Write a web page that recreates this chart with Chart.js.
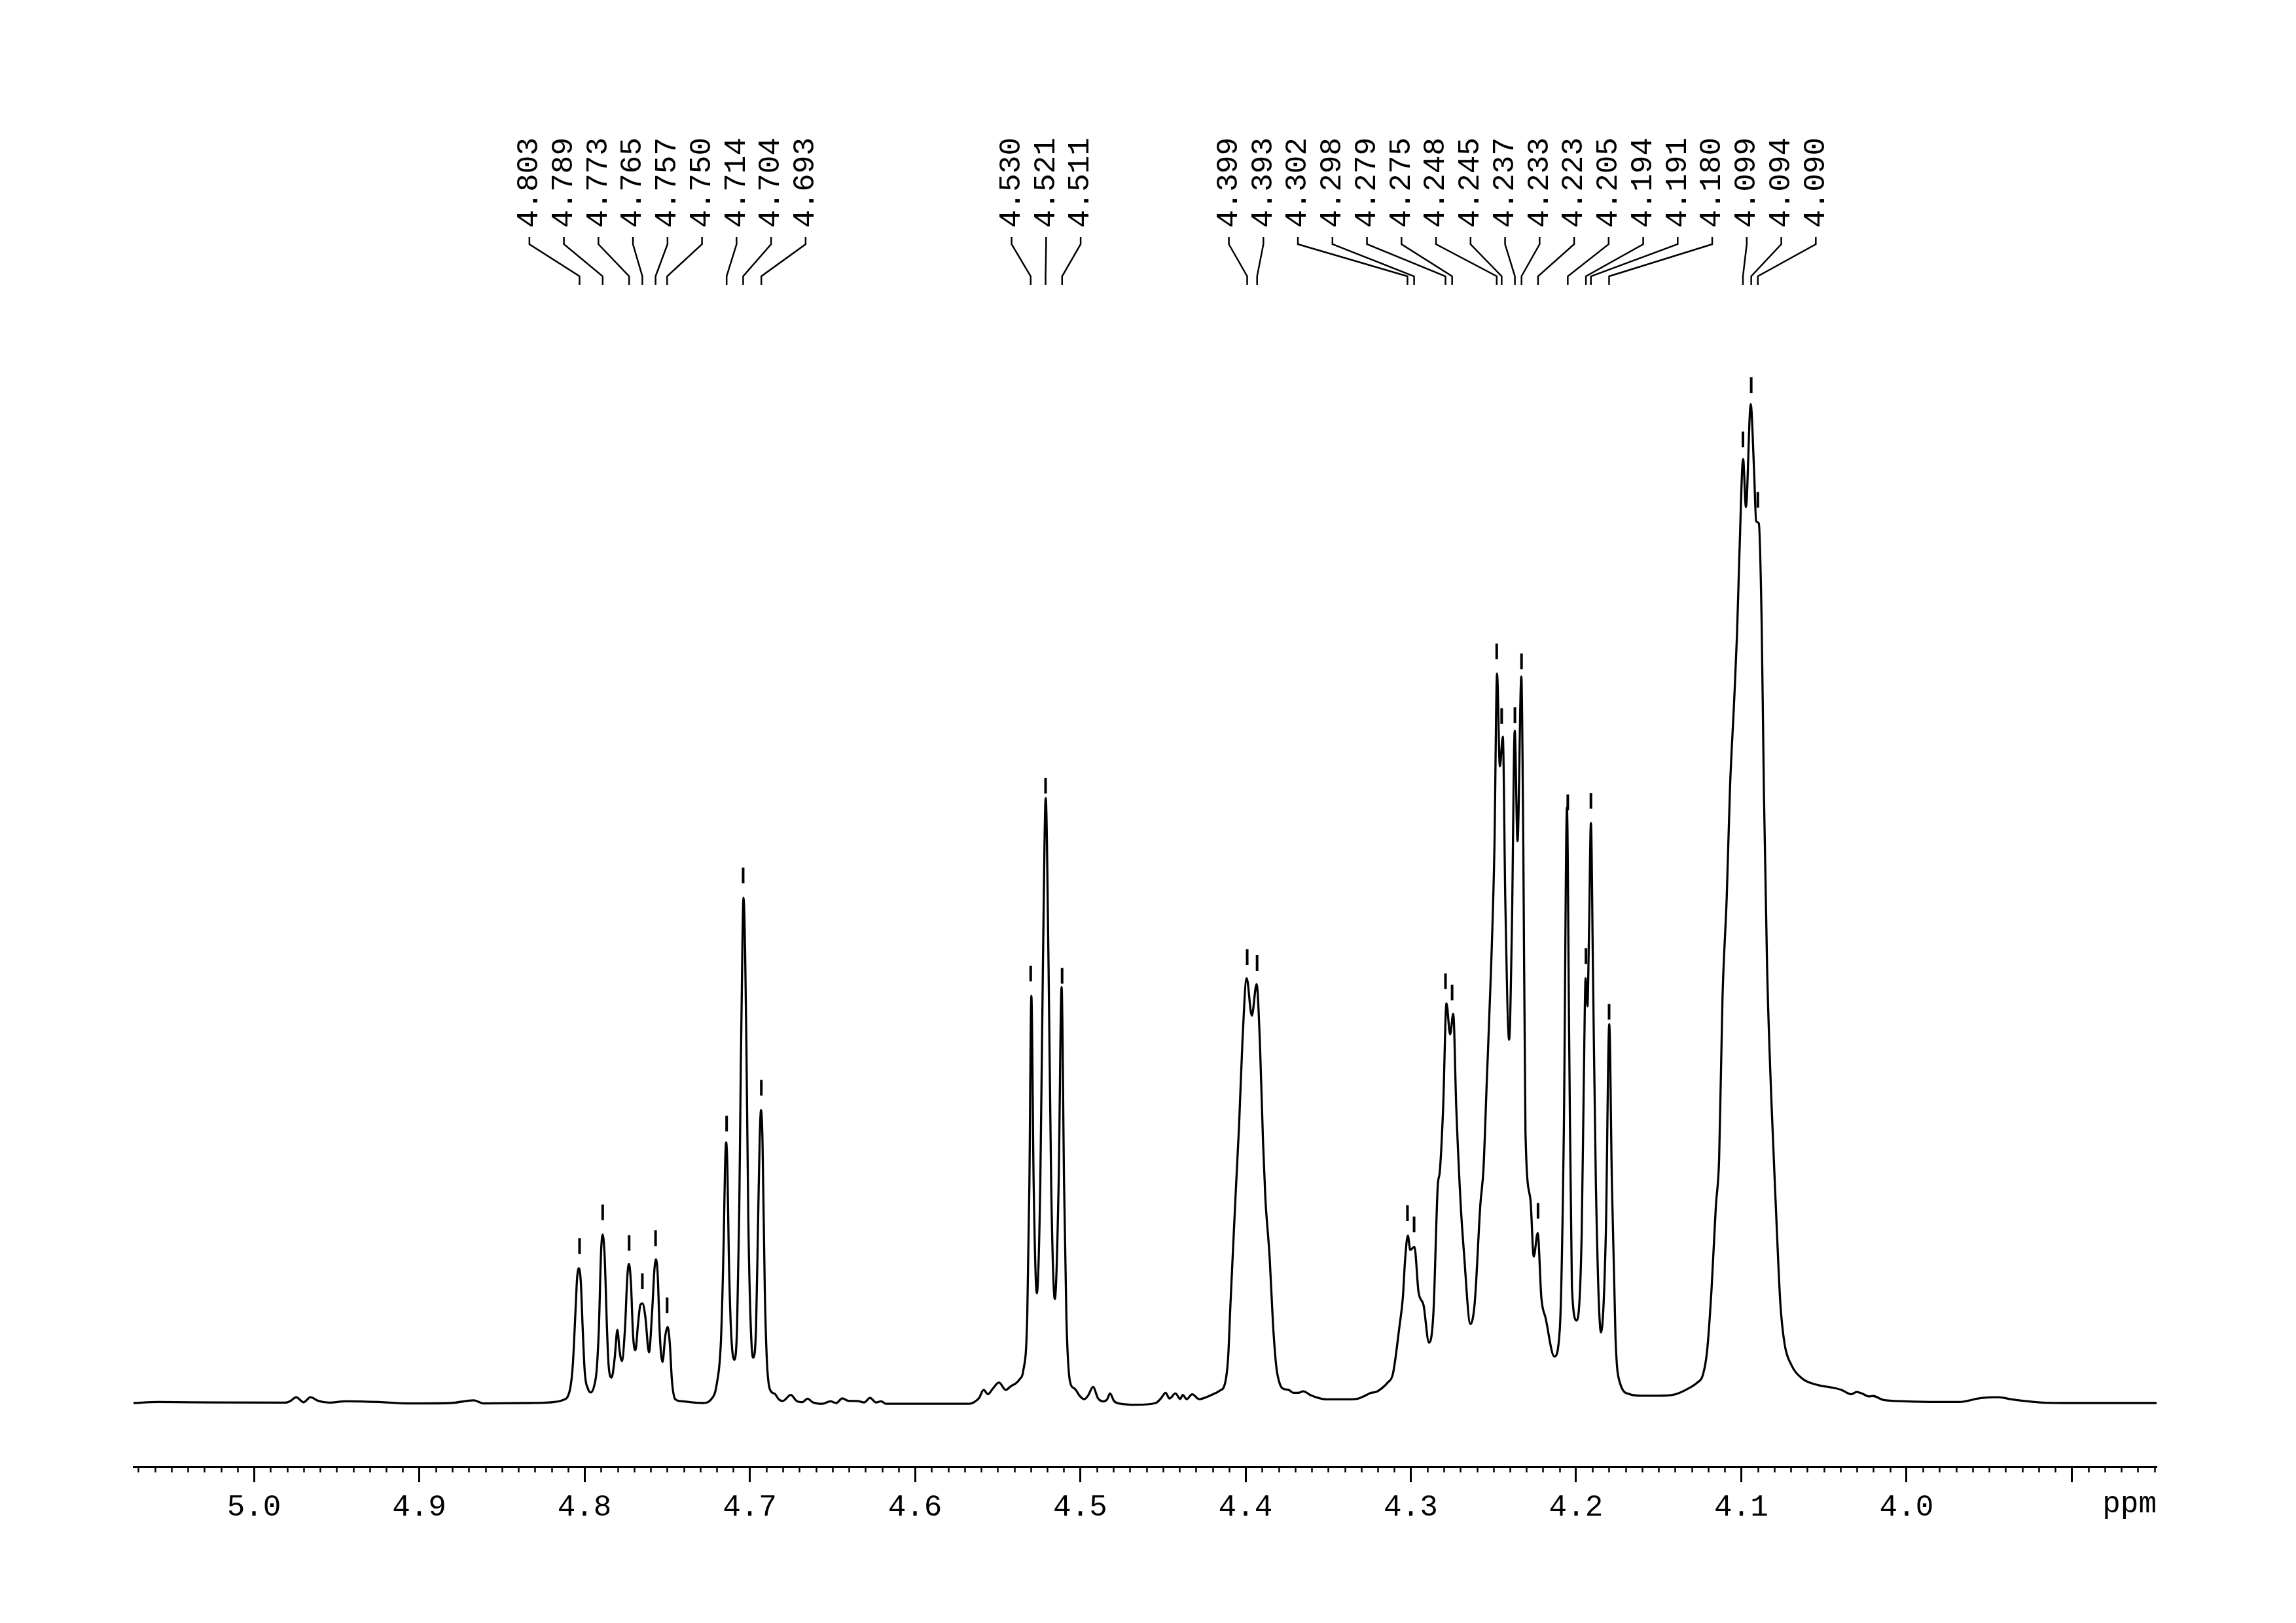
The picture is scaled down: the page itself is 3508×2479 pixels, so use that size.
<!DOCTYPE html>
<html>
<head>
<meta charset="utf-8">
<title>1H NMR 3.85 - 5.07 ppm</title>
<script src="https://cdn.jsdelivr.net/npm/chart.js@4.4.1/dist/chart.umd.min.js"></script>
<style>
    html, body { margin: 0; padding: 0; background: #fff; }
    #spec { display: block; }
</style>
</head>
<body>
<canvas id="spec" width="3508" height="2479"></canvas>
<script>
// Spectrum trace: shift (ppm) and intensity (arbitrary units)
const shiftPpm = [
    5.0729, 5.0578, 5.0245, 4.9812, 4.9778, 4.9745, 4.9700, 4.9658, 4.9612, 4.9545,
    4.9445, 4.9245, 4.9078, 4.8811, 4.8670, 4.8611, 4.8328, 4.8212, 4.8131, 4.8091,
    4.8071, 4.8054, 4.8045, 4.8034, 4.8022, 4.8011, 4.7998, 4.7979, 4.7962, 4.7939,
    4.7926, 4.7913, 4.7900, 4.7890, 4.7878, 4.7864, 4.7854, 4.7836, 4.7817, 4.7801,
    4.7788, 4.7774, 4.7755, 4.7741, 4.7731, 4.7719, 4.7706, 4.7692, 4.7676, 4.7662,
    4.7649, 4.7632, 4.7610, 4.7590, 4.7577, 4.7567, 4.7557, 4.7544, 4.7528, 4.7511,
    4.7497, 4.7484, 4.7471, 4.7451, 4.7418, 4.7286, 4.7233, 4.7200, 4.7174, 4.7157,
    4.7150, 4.7143, 4.7135, 4.7127, 4.7114, 4.7094, 4.7077, 4.7064, 4.7054, 4.7045,
    4.7038, 4.7028, 4.7019, 4.7009, 4.6995, 4.6980, 4.6962, 4.6949, 4.6940, 4.6932,
    4.6923, 4.6909, 4.6896, 4.6877, 4.6850, 4.6824, 4.6800, 4.6752, 4.6716, 4.6680,
    4.6651, 4.6620, 4.6560, 4.6512, 4.6476, 4.6440, 4.6404, 4.6344, 4.6308, 4.6272,
    4.6236, 4.6205, 4.6176, 4.5984, 4.5672, 4.5636, 4.5612, 4.5585, 4.5559, 4.5528,
    4.5492, 4.5451, 4.5420, 4.5389, 4.5365, 4.5345, 4.5321, 4.5308, 4.5296, 4.5282,
    4.5263, 4.5242, 4.5226, 4.5209, 4.5192, 4.5176, 4.5154, 4.5131, 4.5113, 4.5098,
    4.5084, 4.5061, 4.5036, 4.5000, 4.4976, 4.4952, 4.4923, 4.4892, 4.4860, 4.4837,
    4.4820, 4.4796, 4.4760, 4.4664, 4.4544, 4.4508, 4.4484, 4.4460, 4.4424, 4.4395,
    4.4380, 4.4356, 4.4323, 4.4280, 4.4244, 4.4196, 4.4155, 4.4125, 4.4105, 4.4092,
    4.4078, 4.4059, 4.4039, 4.4019, 4.3993, 4.3962, 4.3933, 4.3913, 4.3894, 4.3880,
    4.3854, 4.3834, 4.3814, 4.3795, 4.3776, 4.3740, 4.3711, 4.3680, 4.3651, 4.3608,
    4.3560, 4.3512, 4.3416, 4.3368, 4.3320, 4.3276, 4.3240, 4.3212, 4.3176, 4.3140,
    4.3108, 4.3068, 4.3048, 4.3035, 4.3018, 4.3003, 4.2978, 4.2953, 4.2923, 4.2890,
    4.2863, 4.2837, 4.2824, 4.2804, 4.2784, 4.2762, 4.2743, 4.2725, 4.2698, 4.2679,
    4.2639, 4.2613, 4.2579, 4.2560, 4.2540, 4.2514, 4.2494, 4.2478, 4.2461, 4.2443,
    4.2428, 4.2405, 4.2388, 4.2371, 4.2354, 4.2331, 4.2319, 4.2306, 4.2276, 4.2256,
    4.2232, 4.2210, 4.2184, 4.2131, 4.2098, 4.2074, 4.2055, 4.2042, 4.2025, 4.1996,
    4.1966, 4.1953, 4.1942, 4.1931, 4.1921, 4.1910, 4.1897, 4.1880, 4.1849, 4.1820,
    4.1799, 4.1783, 4.1761, 4.1735, 4.1675, 4.1600, 4.1500, 4.1398, 4.1319, 4.1266,
    4.1233, 4.1207, 4.1180, 4.1154, 4.1134, 4.1114, 4.1088, 4.1068, 4.1044, 4.1026,
    4.1011, 4.0989, 4.0972, 4.0943, 4.0923, 4.0910, 4.0894, 4.0877, 4.0863, 4.0844,
    4.0817, 4.0791, 4.0764, 4.0738, 4.0698, 4.0632, 4.0527, 4.0448, 4.0395, 4.0335,
    4.0302, 4.0269, 4.0229, 4.0203, 4.0143, 4.0012, 3.9814, 3.9682, 3.9550, 3.9444,
    3.9365, 3.9193, 3.8995, 3.8487
];
const intensity = [
    0, 0.7, 0.4, 0.3, 1.5, 4, 0.5, 4, 1.5, 0.3,
    1.2, 0.7, -0.3, 0, 1.8, -0.3, 0, 0.4, 2, 7.7,
    25.6, 64, 85, 92, 82, 51, 20.5, 9.7, 7.2, 12.8,
    23, 51, 102.6, 115, 100, 51, 25.6, 17.4, 31, 50,
    36, 28.7, 51, 86, 95, 82, 46, 36, 54, 67,
    68, 59, 34.6, 64, 91, 98, 87.5, 46, 28, 46,
    52, 41, 15.4, 2.6, 1.3, 0, 2.6, 12.8, 43.6, 115,
    159, 178, 159, 102.6, 51, 29.5, 51, 128, 231, 308,
    345, 308, 231, 128, 56, 31, 51, 128, 179.5, 200,
    179.5, 77, 28, 9, 6.4, 2.5, 1.4, 5.5, 1.4, 0.6,
    3, 0.6, -0.5, 1.2, 0, 3.2, 1.5, 1.3, 0.4, 3.5,
    0.4, 1.2, -0.5, -0.5, -0.5, 1.1, 3.5, 9, 6, 10,
    14, 9, 11.5, 13.5, 16.5, 22, 58.6, 149, 278, 149,
    75, 149, 299, 413, 299, 149, 71, 149, 284, 149,
    58.6, 14, 10, 4.4, 2.6, 5.2, 11, 3.1, 1.1, 2.6,
    6.5, 1.4, -0.4, -1.2, 0, 3.7, 7, 3.1, 6.5, 2.8,
    5.5, 2.6, 6, 2.6, 3.7, 6, 8.5, 13, 31.6, 65.5,
    99.4, 144.6, 189.7, 246, 290, 264.5, 286, 246, 178, 140,
    99.4, 54.3, 25, 14, 10, 9, 7, 7, 8, 5.5,
    3.5, 2.5, 2.5, 2.5, 3, 5, 7, 7.5, 10, 14,
    20, 52.8, 72, 96.8, 114.4, 104.5, 106.7, 75.7, 66.9, 41.2,
    61.6, 147.8, 158.4, 202.4, 272.8, 251.7, 265.8, 202.4, 135.5, 103.8,
    53.9, 68.6, 135.5, 160.2, 220, 297.4, 378.4, 498, 434.7, 455,
    343, 248, 325.6, 459, 383.7, 496, 378.4, 184.8, 139, 100,
    116, 72, 58, 31.7, 51, 184.8, 406.6, 255, 79, 56.3,
    114.4, 220, 290, 271, 325.6, 396, 290, 149.6, 48.2, 114.4,
    258.7, 149.6, 44, 14, 6, 5, 5, 6, 10, 14,
    19, 35.5, 77.9, 134.3, 167.3, 275.5, 346, 421, 477.6, 524.7,
    581, 644.6, 611.7, 682, 637.5, 602, 600.6, 534, 416, 298,
    204, 134.3, 68.5, 40.3, 26.2, 16.8, 12, 10.5, 9, 6,
    7.5, 6.5, 4.5, 4.8, 2.2, 1.2, 0.7, 0.7, 3.4, 4,
    2.5, 0.4, 0, 0
];

// picked peaks (ppm), labelled at the top
const peakPicks = [
    4.803, 4.789, 4.773, 4.765, 4.757, 4.750, 4.714, 4.704, 4.693,
    4.530, 4.521, 4.511,
    4.399, 4.393, 4.302, 4.298, 4.279, 4.275, 4.248, 4.245, 4.237,
    4.233, 4.223, 4.205, 4.194, 4.191, 4.180, 4.099, 4.094, 4.090
];

// axis
const tickLabels = ['5.0', '4.9', '4.8', '4.7', '4.6', '4.5', '4.4', '4.3', '4.2', '4.1', '4.0'];
const axisUnit = 'ppm';
const ppmLeft = 5.0729;
const ppmRight = 3.8487;

// page layout (px)
const CANVAS_H = 2479;
const PLOT_TOP = 447;
const AXIS_Y = 2240;
const BASE_Y = 2143;
const PX_PER_UNIT = 2.237;
const MONO = '"Liberation Mono", "DejaVu Sans Mono", monospace';

function curveAt(ppm) {
    for (let i = 0; i < shiftPpm.length - 1; i++) {
        const a = shiftPpm[i], b = shiftPpm[i + 1];
        if (ppm <= a && ppm >= b) {
            const t = (a - ppm) / (a - b);
            return intensity[i] + t * (intensity[i + 1] - intensity[i]);
        }
    }
    return 0;
}

// push overlapping labels apart, each crowded group centred on its peaks
function spreadLabels(xs, gap) {
    let groups = xs.map(x => ({ sum: x, n: 1 }));
    let merged = true;
    while (merged) {
        merged = false;
        for (let i = 0; i < groups.length - 1; i++) {
            const a = groups[i], b = groups[i + 1];
            const aEnd = a.sum / a.n + (a.n - 1) * gap / 2;
            const bStart = b.sum / b.n - (b.n - 1) * gap / 2;
            if (bStart - aEnd < gap) {
                groups.splice(i, 2, { sum: a.sum + b.sum, n: a.n + b.n });
                merged = true;
                break;
            }
        }
    }
    const out = [];
    groups.forEach(g => {
        const c = g.sum / g.n;
        for (let k = 0; k < g.n; k++) out.push(c - (g.n - 1) * gap / 2 + k * gap);
    });
    return out;
}

// minor ticks, unit label, peak pick marks and labels
const nmrDecor = {
    id: 'nmrDecor',
    afterDraw(chart) {
        const ctx = chart.ctx;
        const xs = chart.scales.x;
        const ys = chart.scales.y;
        const axisY = chart.chartArea.bottom;
        ctx.save();
        ctx.strokeStyle = '#000';
        ctx.fillStyle = '#000';

        // minor ticks every 0.01 ppm
        ctx.lineWidth = 2.5;
        ctx.beginPath();
        for (let k = Math.ceil(ppmRight * 100); k <= Math.floor(ppmLeft * 100); k++) {
            if (k % 10 === 0) continue;
            const x = Math.round(xs.getPixelForValue(k / 100)) + 0.5;
            ctx.moveTo(x, axisY);
            ctx.lineTo(x, axisY + 9);
        }
        ctx.stroke();

        // unit
        ctx.font = '46px ' + MONO;
        ctx.textAlign = 'right';
        ctx.textBaseline = 'top';
        ctx.fillText(axisUnit, xs.right, axisY + 24 + 11);

        // pick marks above the trace
        ctx.lineWidth = 4;
        ctx.beginPath();
        peakPicks.forEach(p => {
            let h = -Infinity;
            for (let d = -0.0006; d <= 0.0006; d += 0.0002) h = Math.max(h, curveAt(p + d));
            const x = xs.getPixelForValue(p);
            const y = ys.getPixelForValue(h);
            ctx.moveTo(x, y - 22);
            ctx.lineTo(x, y - 46);
        });
        ctx.stroke();

        // labels with leader lines
        const px = peakPicks.map(p => xs.getPixelForValue(p));
        const lx = spreadLabels(px, 52.75);
        ctx.lineWidth = 2.5;
        ctx.beginPath();
        px.forEach((x, i) => {
            ctx.moveTo(lx[i], 362);
            ctx.lineTo(lx[i], 373);
            ctx.lineTo(x, 422);
            ctx.lineTo(x, 435);
        });
        ctx.stroke();

        ctx.font = '46px ' + MONO;
        ctx.textAlign = 'left';
        ctx.textBaseline = 'middle';
        peakPicks.forEach((p, i) => {
            ctx.save();
            ctx.translate(lx[i], 348);
            ctx.rotate(-Math.PI / 2);
            ctx.fillText(p.toFixed(3), 0, 0);
            ctx.restore();
        });
        ctx.restore();
    }
};

new Chart(document.getElementById('spec'), {
    type: 'line',
    data: {
        datasets: [{
            data: shiftPpm.map((x, i) => ({ x: x, y: intensity[i] })),
            borderColor: '#000',
            borderWidth: 3.3,
            pointRadius: 0,
            fill: false,
            cubicInterpolationMode: 'monotone'
        }]
    },
    options: {
        responsive: false,
        animation: false,
        devicePixelRatio: 1,
        layout: { padding: { top: PLOT_TOP, left: 204, right: 213, bottom: 0 } },
        plugins: { legend: { display: false }, tooltip: { enabled: false } },
        scales: {
            x: {
                type: 'linear',
                reverse: true,
                min: ppmRight,
                max: ppmLeft,
                border: { display: true, color: '#000', width: 3 },
                grid: { display: true, drawOnChartArea: false, drawTicks: true, tickLength: 24, tickWidth: 3, tickColor: '#000' },
                ticks: {
                    stepSize: 0.1,
                    includeBounds: false,
                    autoSkip: false,
                    maxRotation: 0,
                    padding: 11,
                    color: '#000',
                    font: { family: MONO, size: 46 },
                    callback: v => tickLabels.includes(v.toFixed(1)) ? v.toFixed(1) : ''
                },
                afterFit: s => { s.height = CANVAS_H - AXIS_Y; }
            },
            y: {
                display: false,
                min: -(AXIS_Y - BASE_Y) / PX_PER_UNIT,
                max: (BASE_Y - PLOT_TOP) / PX_PER_UNIT
            }
        }
    },
    plugins: [nmrDecor]
});
</script>
</body>
</html>
